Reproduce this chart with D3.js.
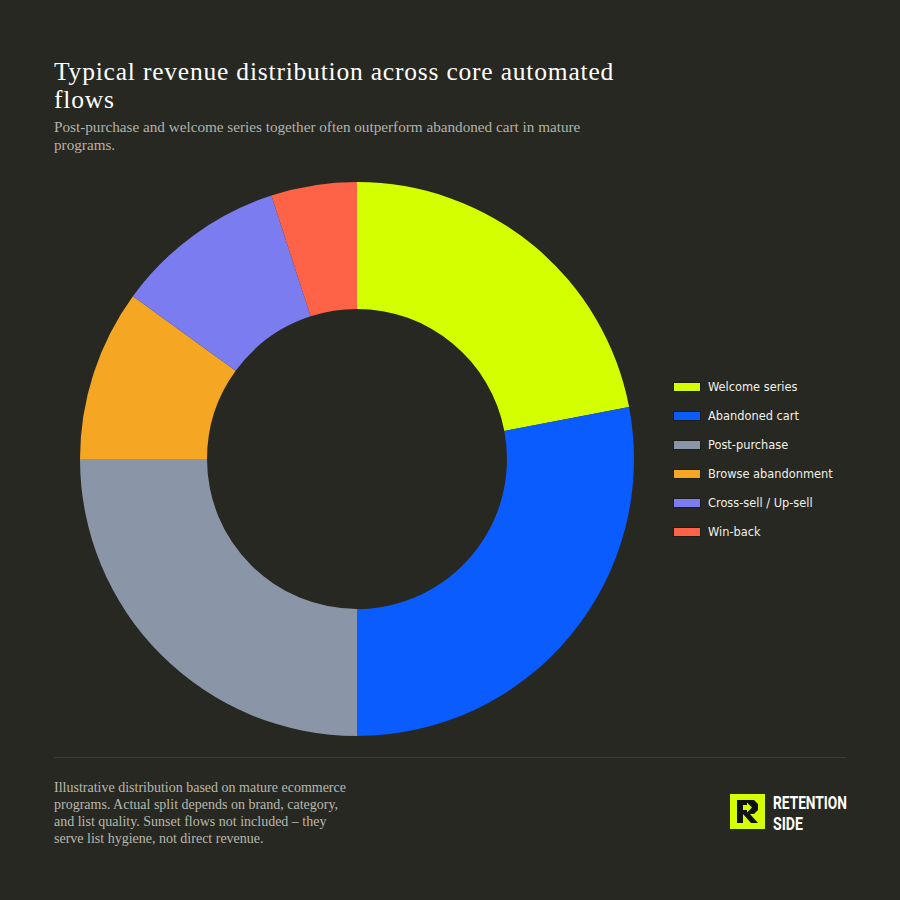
<!DOCTYPE html>
<html><head><meta charset="utf-8">
<script src="https://cdn.jsdelivr.net/npm/d3@7"></script>
<style>html,body{margin:0;padding:0;background:#272821;}svg{display:block;}</style>
</head><body><svg id="c" width="900" height="900"></svg>
<script>
const categories = ["Welcome series","Abandoned cart","Post-purchase","Browse abandonment","Cross-sell / Up-sell","Win-back"];
const values = [22, 28, 25, 10, 10, 5];
const colors = ["#d4ff00","#0a5cff","#8a96a8","#f5a623","#7b7cef","#ff6347"];
const titleLines = ["Typical revenue distribution across core automated","flows"];
const subtitleLines = ["Post-purchase and welcome series together often outperform abandoned cart in mature","programs."];
const footLines = ["Illustrative distribution based on mature ecommerce","programs. Actual split depends on brand, category,","and list quality. Sunset flows not included – they","serve list hygiene, not direct revenue."];

const svg = d3.select("#c");
svg.append("rect").attr("width",900).attr("height",900).attr("fill","#272821");

const serif = "'Liberation Serif','DejaVu Serif',serif";
svg.append("g").selectAll("text").data(titleLines).join("text")
  .attr("x",54).attr("y",(d,i)=>79.5+i*28.5)
  .attr("font-family",serif).attr("font-size",25.5).attr("letter-spacing",0.8)
  .attr("fill","#ffffff").text(d=>d);
svg.append("g").selectAll("text").data(subtitleLines).join("text")
  .attr("x",54).attr("y",(d,i)=>132+i*18)
  .attr("font-family",serif).attr("font-size",15.2).attr("fill","#b3b3ab").text(d=>d);

const cx=357, cy=459, R=277, r=150;
const pie = d3.pie().sort(null).value(d=>d.v);
const arc = d3.arc().innerRadius(r).outerRadius(R);
const data = categories.map((c,i)=>({c, v:values[i], col:colors[i]}));
svg.append("g").attr("transform",`translate(${cx},${cy})`)
  .selectAll("path").data(pie(data)).join("path")
  .attr("d",arc).attr("fill",d=>d.data.col);

const leg = svg.append("g").attr("transform","translate(673,387)");
const li = leg.selectAll("g").data(data).join("g").attr("transform",(d,i)=>`translate(0,${i*29})`);
li.append("rect").attr("x",0.5).attr("y",-4.5).attr("width",27).attr("height",9)
  .attr("fill",d=>d.col).attr("stroke","#1e1f19").attr("stroke-width",1);
li.append("text").attr("x",35).attr("y",0).attr("dy","0.35em")
  .attr("font-family","'DejaVu Sans',sans-serif").attr("font-size",11.4).attr("fill","#f0f0ea").text(d=>d.c);

svg.append("line").attr("x1",54).attr("x2",846).attr("y1",757.5).attr("y2",757.5)
  .attr("stroke","#3b3d35").attr("stroke-width",1);

svg.append("g").selectAll("text").data(footLines).join("text")
  .attr("x",54).attr("y",(d,i)=>792+i*17)
  .attr("font-family",serif).attr("font-size",14).attr("fill","#b8b8b0").text(d=>d);

const logo = svg.append("g").attr("transform","translate(730,794)");
logo.append("rect").attr("width",35).attr("height",35).attr("fill","#d4ff00");
logo.append("path").attr("fill","#111111")
  .attr("d","M7,6 H24 L28,10 V16 L24,20 H20 L28,29 H21 L13,20 V29 H7 Z M13,11 V16 H17 L17,18.5 L22,13.5 L17,8.5 L17,11 Z");
logo.append("text").attr("x",43).attr("y",15).attr("font-family","'Roboto','DejaVu Sans',sans-serif")
  .attr("font-weight","bold").attr("font-size",18).attr("fill","#ffffff")
  .attr("textLength",74).attr("lengthAdjust","spacingAndGlyphs").text("RETENTION");
logo.append("text").attr("x",43).attr("y",36).attr("font-family","'Roboto','DejaVu Sans',sans-serif")
  .attr("font-weight","bold").attr("font-size",18).attr("fill","#ffffff")
  .attr("textLength",30).attr("lengthAdjust","spacingAndGlyphs").text("SIDE");
</script></body></html>
